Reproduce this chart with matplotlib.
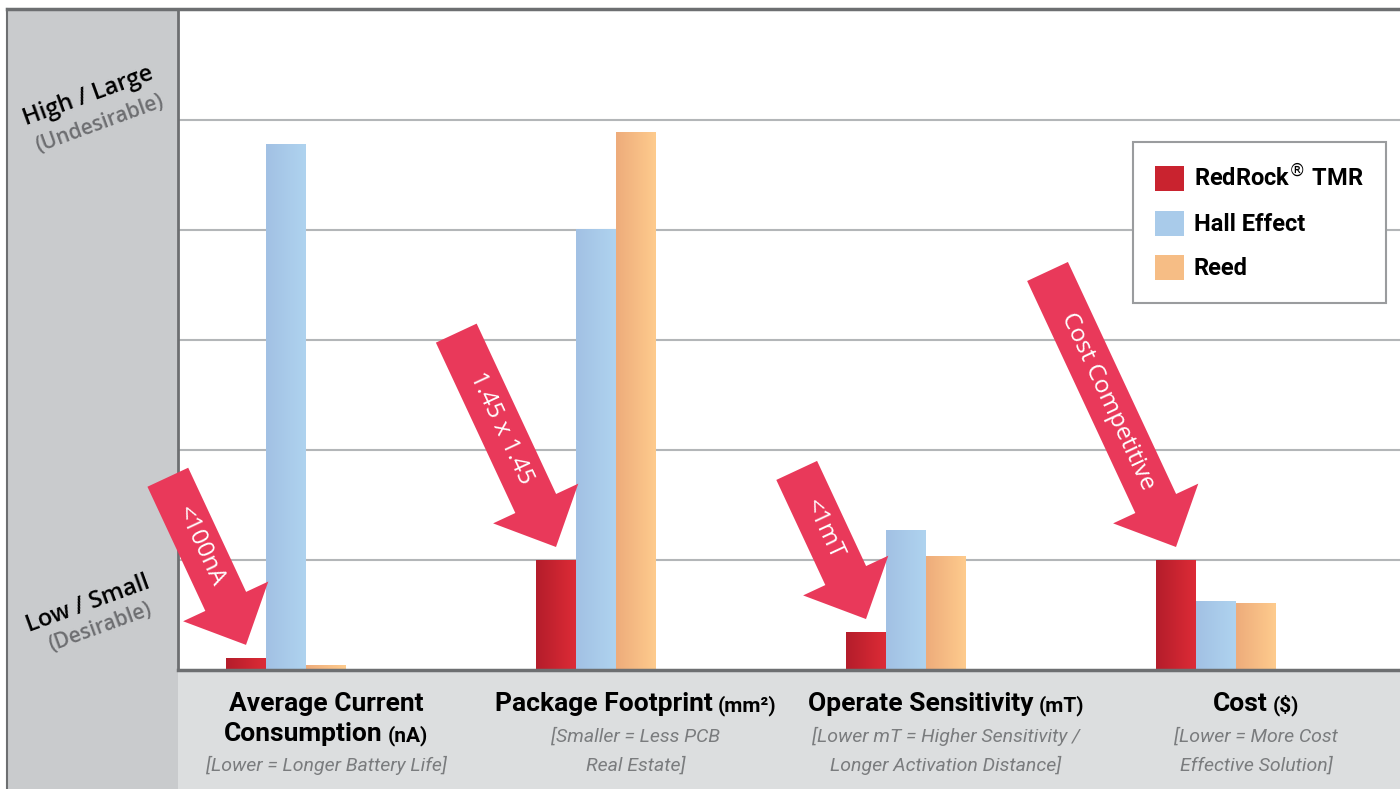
import numpy as np
import matplotlib
matplotlib.use("Agg")
import matplotlib.pyplot as plt
from matplotlib.patches import Rectangle, Polygon, Patch
from matplotlib.lines import Line2D
from matplotlib.colors import LinearSegmentedColormap

# ---- data (relative scale) ----
groups = ["Average Current", "Package Footprint", "Operate Sensitivity", "Cost"]
group_line2 = ["Consumption", None, None, None]
units = ["(nA)", "(mm²)", "(mT)", "($)"]
notes = [["[Lower = Longer Battery Life]"],
         ["[Smaller = Less PCB", "Real Estate]"],
         ["[Lower mT = Higher Sensitivity /", "Longer Activation Distance]"],
         ["[Lower = More Cost", "Effective Solution]"]]
redrock = [0.11, 1.0, 0.345, 1.0]
hall = [4.78, 4.01, 1.27, 0.627]
reed = [0.045, 4.89, 1.04, 0.61]
series_names = ["RedRock$^{®}$ TMR", "Hall Effect", "Reed"]
callouts = ["<100nA", "1.45 x 1.45", "<1mT", "Cost Competitive"]

W, H = 1400, 789
fig = plt.figure(figsize=(W / 100, H / 100), dpi=100, facecolor="white")

def fx(x):
    return x / W

def fy(y):
    return 1 - y / H

# background panels
fig.add_artist(Rectangle((fx(7), 0), 1 - fx(7), fy(670), transform=fig.transFigure,
                         facecolor="#dcdedf", edgecolor="none", zorder=0))
fig.add_artist(Rectangle((fx(7), 0), fx(178) - fx(7), fy(9), transform=fig.transFigure,
                         facecolor="#c9cbcd", edgecolor="none", zorder=0))
fig.add_artist(Line2D([fx(7), 1], [fy(9), fy(9)], transform=fig.transFigure,
                      color="#6d6f71", lw=2.5, zorder=1))
fig.add_artist(Line2D([fx(7), fx(7)], [0, fy(9)], transform=fig.transFigure,
                      color="#6d6f71", lw=1.5, zorder=1))

ax = fig.add_axes([fx(178), fy(670), 1 - fx(178), fy(10) - fy(670)])
ax.set_facecolor("white")

bw = 40 / 310
x = np.arange(len(groups))
xlim = (-108 / 310, (1400 - 286) / 310)
ylim = (0, 6)

colors = [("#b41d2b", "#dd2b36"), ("#a2c1e4", "#afd3ef"), ("#eeac7b", "#fecb8d")]
legend_cols = ["#c9232f", "#a9cbea", "#f6bd85"]

for k, vals in enumerate([redrock, hall, reed]):
    c0, c1 = colors[k]
    cmap = LinearSegmentedColormap.from_list("g%d" % k, [c0, c1])
    grad = np.linspace(0, 1, 64).reshape(1, -1)
    for i, v in enumerate(vals):
        x0 = x[i] + (k - 1) * bw - bw / 2
        rect = Rectangle((x0, 0), bw, v, facecolor=c1, edgecolor="none", zorder=2)
        ax.add_patch(rect)
        im = ax.imshow(grad, cmap=cmap, extent=(x0, x0 + bw, 0, v), aspect="auto",
                       origin="lower", zorder=2.1, interpolation="bilinear")
        im.set_clip_path(rect)

ax.set_xlim(*xlim)
ax.set_ylim(*ylim)
ax.set_yticks([1, 2, 3, 4, 5])
ax.set_xticks([])
ax.tick_params(left=False, labelleft=False)
ax.grid(axis="y", color="#b3b6b8", lw=1.5, zorder=1)
ax.set_axisbelow(True)
ax.spines["right"].set_visible(False)
ax.spines["top"].set_visible(False)
ax.spines["left"].set_color("#6d6f71")
ax.spines["left"].set_linewidth(2)
ax.spines["bottom"].set_color("#6d6f71")
ax.spines["bottom"].set_linewidth(2.5)

handles = [Patch(facecolor=c, edgecolor="none") for c in legend_cols]
leg = ax.legend(handles, series_names, loc="upper left", bbox_to_anchor=(0.7815, 0.8),
                borderaxespad=0, fancybox=False, framealpha=1, edgecolor="#9a9c9e",
                handlelength=1.22, handleheight=1.25, handletextpad=0.4,
                labelspacing=0.8, borderpad=0.95,
                prop={"family": ["Roboto", "DejaVu Sans"], "weight": "bold", "size": 17})
leg.get_frame().set_linewidth(1.5)
leg.set_zorder(5)

# ---- callout arrows pointing at the RedRock bars ----
arrow_len = [185, 236, 164, 304]
ang = np.deg2rad(65)
d = np.array([np.cos(ang), -np.sin(ang)])
n = np.array([np.sin(ang), np.cos(ang)])
hw, HW, hl = 22.5, 47, 48
for i, v in enumerate(redrock):
    tx, ty = ax.transData.transform((x[i] - bw, v))
    tip = np.array([tx, ty + 13])
    L = arrow_len[i]
    tail = tip - d * L
    local = [(0, -hw), (L - hl, -hw), (L - hl, -HW), (L, 0), (L - hl, HW), (L - hl, hw), (0, hw)]
    pts = [tail + u * d + w * n for u, w in local]
    fig.add_artist(Polygon(pts, closed=True, transform=None, facecolor="#e9395a",
                           edgecolor="none", zorder=6))
    c = tail + d * ((L - hl) * 0.56)
    fig.text(c[0], c[1], callouts[i], transform=None, rotation=-65, rotation_mode="anchor",
             ha="center", va="center", color="white", fontsize=17.5,
             family=["Open Sans", "DejaVu Sans"], zorder=7)

# ---- left axis words ----
lab = dict(transform=fig.transFigure, rotation=20, ha="center", va="center",
           family=["Open Sans", "DejaVu Sans"], rotation_mode="anchor")
fig.text(fx(88), fy(96), "High / Large", fontsize=17, weight="semibold", color="black", **lab)
fig.text(fx(100), fy(124), "(Undesirable)", fontsize=15, weight="semibold", color="#6d6e71", **lab)
fig.text(fx(88), fy(604), "Low / Small", fontsize=17, weight="semibold", color="black", **lab)
fig.text(fx(100), fy(628), "(Desirable)", fontsize=15, weight="semibold", color="#6d6e71", **lab)

# ---- category labels under the axis ----
narrow = ["Roboto", "DejaVu Sans"]
renderer = fig.canvas.get_renderer()

def two_part(cx, ybase, big, small):
    t1 = fig.text(0, ybase, big, transform=None, ha="left", va="baseline",
                  fontsize=19, weight="bold", family=narrow)
    t2 = fig.text(0, ybase, small, transform=None, ha="left", va="baseline",
                  fontsize=15, weight="bold", family=narrow)
    w1 = t1.get_window_extent(renderer).width
    w2 = t2.get_window_extent(renderer).width
    gap = 5
    start = cx - (w1 + gap + w2) / 2
    t1.set_x(start)
    t2.set_x(start + w1 + gap)

for i in range(len(groups)):
    cx, _ = ax.transData.transform((x[i] + bw, 0))
    if group_line2[i]:
        fig.text(cx, H - 711, groups[i], transform=None, ha="center", va="baseline",
                 fontsize=19, weight="bold", family=narrow)
        two_part(cx, H - 741, group_line2[i], units[i])
        ny = [771]
    else:
        two_part(cx, H - 711, groups[i], units[i])
        ny = [742, 771]
    for j, line in enumerate(notes[i]):
        fig.text(cx, H - ny[j], line, transform=None, ha="center", va="baseline",
                 fontsize=14, style="italic", color="#7a7c7e", family=narrow)

fig.savefig("out.png", dpi=100, facecolor=fig.get_facecolor())
